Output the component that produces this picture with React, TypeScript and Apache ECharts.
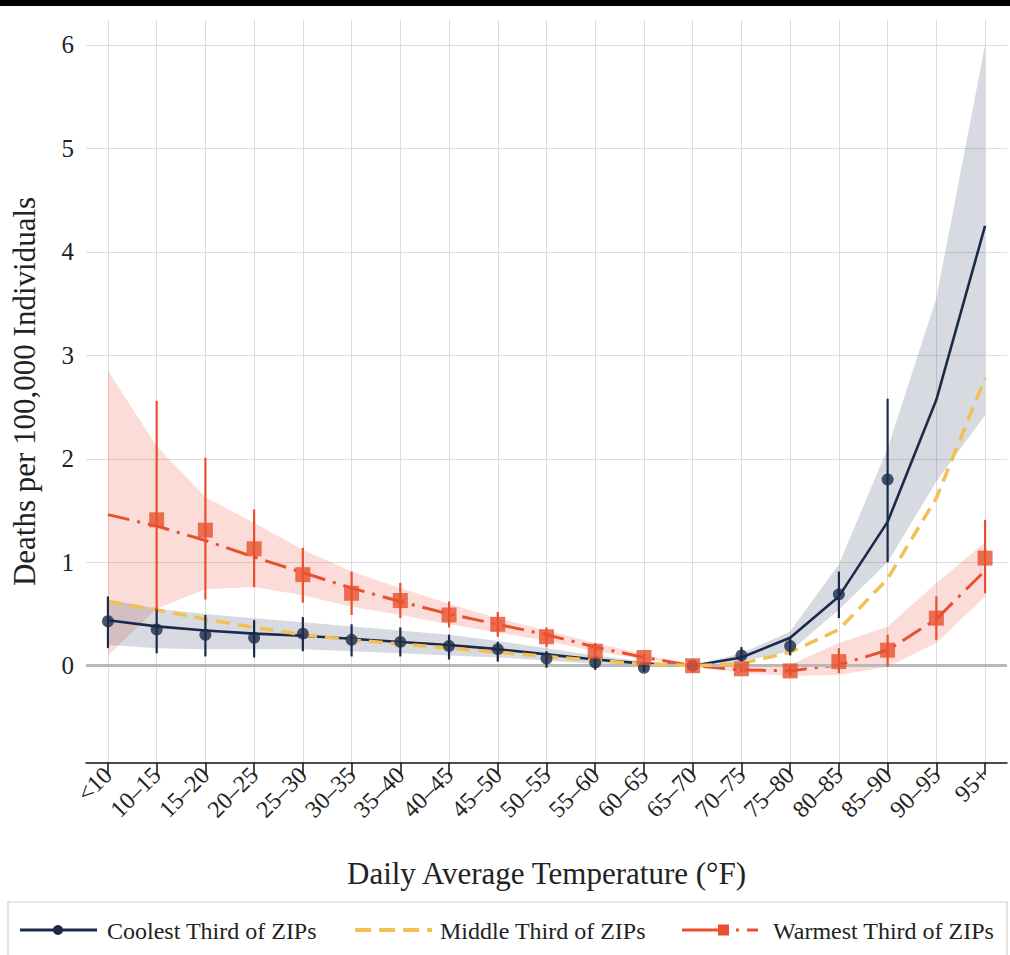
import React, { useEffect, useRef } from "react";
import * as echarts from "echarts";

const categories = ["<10", "10–15", "15–20", "20–25", "25–30", "30–35", "35–40", "40–45", "45–50", "50–55", "55–60", "60–65", "65–70", "70–75", "75–80", "80–85", "85–90", "90–95", "95+"];
const yTicks = [0, 1, 2, 3, 4, 5, 6];

// Coolest third
const coolestFit = [0.44, 0.38, 0.34, 0.31, 0.29, 0.26, 0.23, 0.2, 0.16, 0.11, 0.06, 0.02, 0, 0.08, 0.27, 0.67, 1.39, 2.57, 4.25];
const coolestBandHi = [0.64, 0.55, 0.5, 0.46, 0.42, 0.38, 0.34, 0.3, 0.24, 0.17, 0.1, 0.04, 0, 0.12, 0.33, 0.98, 2.1, 3.55, 6.0];
const coolestBandLo = [0.2, 0.17, 0.16, 0.16, 0.16, 0.14, 0.12, 0.1, 0.08, 0.05, 0.02, 0.0, 0, 0.04, 0.14, 0.54, 1.0, 1.78, 2.42];
const coolestPt = [0.43, 0.35, 0.3, 0.27, 0.31, 0.25, 0.23, 0.19, 0.16, 0.07, 0.03, -0.02, 0, 0.1, 0.19, 0.69, 1.8, null, null];
const coolestHi = [0.67, 0.56, 0.49, 0.44, 0.47, 0.4, 0.37, 0.3, 0.23, 0.14, 0.09, 0.02, null, 0.18, 0.27, 0.91, 2.58, null, null];
const coolestLo = [0.17, 0.12, 0.09, 0.08, 0.14, 0.09, 0.09, 0.06, 0.04, -0.02, -0.04, -0.06, null, 0.04, 0.1, 0.46, 1.0, null, null];

// Middle third
const middleFit = [0.62, 0.54, 0.45, 0.37, 0.3, 0.25, 0.21, 0.17, 0.13, 0.09, 0.05, 0.02, 0, 0.02, 0.13, 0.35, 0.84, 1.62, 2.78];

// Warmest third
const warmestFit = [1.46, 1.35, 1.21, 1.05, 0.9, 0.75, 0.62, 0.5, 0.4, 0.3, 0.18, 0.08, 0, -0.04, -0.05, 0.01, 0.15, 0.45, 0.92];
const warmestBandHi = [2.85, 2.12, 1.63, 1.38, 1.12, 0.91, 0.75, 0.6, 0.46, 0.34, 0.22, 0.11, 0, 0.0, 0.01, 0.22, 0.38, 0.8, 1.19];
const warmestBandLo = [0.1, 0.55, 0.74, 0.76, 0.68, 0.57, 0.49, 0.4, 0.32, 0.24, 0.14, 0.06, 0, -0.07, -0.1, -0.09, -0.01, 0.22, 0.67];
const warmestPt = [null, 1.41, 1.31, 1.13, 0.88, 0.7, 0.63, 0.49, 0.4, 0.28, 0.14, 0.08, 0, -0.03, -0.05, 0.04, 0.15, 0.46, 1.04];
const warmestHi = [null, 2.56, 2.01, 1.51, 1.14, 0.91, 0.8, 0.62, 0.52, 0.37, 0.22, 0.12, null, 0.0, 0.0, 0.17, 0.3, 0.67, 1.41];
const warmestLo = [null, 0.54, 0.64, 0.76, 0.61, 0.49, 0.46, 0.37, 0.28, 0.18, 0.07, 0.04, null, -0.06, -0.1, -0.07, -0.01, 0.25, 0.7];

const NAVY = "#1c2a4a";
const YELLOW = "#f3bf57";
const RED = "#e8502e";
const FONT = "Liberation Serif";

const pairs = (arr: (number | null)[]) => arr.map((v, i) => [i, v]);
const bars = (lo: (number | null)[], hi: (number | null)[]) =>
  lo.map((v, i) => [i, v, hi[i]]).filter((d) => d[1] != null && d[2] != null);

const bandSeries = (name: string, lo: number[], hi: number[], color: string, z: number, extra: any = {}) => ({
  type: "custom",
  name,
  z,
  silent: true,
  data: lo.map((v, i) => [i, v, hi[i]]),
  encode: { x: 0, y: [1, 2] },
  renderItem: (params: any, api: any) => {
    if (params.dataIndex !== 0) return null;
    const top = hi.map((v, i) => api.coord([i, v]));
    const bottom = lo.map((v, i) => api.coord([i, v])).reverse();
    return {
      type: "polygon",
      shape: { points: top.concat(bottom) },
      style: { fill: color },
    };
  },
  ...extra,
});

const errorBarSeries = (name: string, data: any[], color: string, z: number) => ({
  type: "custom",
  name,
  z,
  silent: true,
  data,
  encode: { x: 0, y: [1, 2] },
  renderItem: (params: any, api: any) => {
    const x = api.value(0);
    const p1 = api.coord([x, api.value(1)]);
    const p2 = api.coord([x, api.value(2)]);
    return {
      type: "line",
      shape: { x1: p1[0], y1: p1[1], x2: p2[0], y2: p2[1] },
      style: { stroke: color, lineWidth: 2.2 },
    };
  },
});

export default function App() {
  const ref = useRef<HTMLDivElement>(null);
  useEffect(() => {
    if (!ref.current) return;
    const chart = echarts.init(ref.current, null, { renderer: "svg" });
    const option: any = {
      animation: false,
      backgroundColor: "#ffffff",
      grid: { left: 86, right: 3, top: 20, bottom: 192, containLabel: false },
      xAxis: {
        type: "value",
        min: -0.45,
        max: 18.45,
        axisLine: { show: true, onZero: false, lineStyle: { color: "#111", width: 1.5 } },
        axisTick: { show: true, customValues: categories.map((_, i) => i), length: 12, lineStyle: { color: "#111", width: 1.5 } },
        axisLabel: {
          customValues: categories.map((_, i) => i),
          formatter: (v: number) => categories[Math.round(v)],
          rotate: 45,
          margin: 8,
          fontFamily: FONT,
          fontSize: 24,
          color: "#222",
        },
        splitLine: { show: true, lineStyle: { color: "#dcdcdc", width: 1 } },
        name: "Daily Average Temperature (°F)",
        nameLocation: "middle",
        nameGap: 95,
        nameTextStyle: { fontFamily: FONT, fontSize: 31, color: "#222" },
      },
      yAxis: {
        type: "value",
        min: -0.94,
        max: 6.24,
        axisLine: { show: false },
        axisTick: { show: false, customValues: yTicks },
        axisLabel: { customValues: yTicks, fontFamily: FONT, fontSize: 25, color: "#222", margin: 12 },
        splitLine: { show: true, lineStyle: { color: "#dcdcdc", width: 1 } },
        name: "Deaths per 100,000 Individuals",
        nameLocation: "middle",
        nameGap: 46,
        nameTextStyle: { fontFamily: FONT, fontSize: 31, color: "#222" },
      },
      series: [
        bandSeries("warmBand", warmestBandLo, warmestBandHi, "rgba(240,110,90,0.24)", 1, {
          markLine: {
            silent: true, symbol: "none", label: { show: false },
            lineStyle: { color: "#b9b9b9", width: 3, type: "solid" },
            data: [{ yAxis: 0 }],
          },
        }),
        bandSeries("coolBand", coolestBandLo, coolestBandHi, "rgba(55,72,105,0.2)", 2),
        {
          type: "line", name: "Coolest Third of ZIPs", data: pairs(coolestFit), symbol: "none", silent: true,
          lineStyle: { color: NAVY, width: 2.6 }, z: 4,
        },
        {
          type: "line", name: "Middle Third of ZIPs", data: pairs(middleFit), symbol: "none", silent: true,
          lineStyle: { color: YELLOW, width: 3.5, type: [14, 8] }, z: 5,
        },
        {
          type: "line", name: "Warmest Third of ZIPs", data: pairs(warmestFit), symbol: "none", silent: true,
          lineStyle: { color: RED, width: 3, type: [22, 8, 3, 8] }, z: 4,
        },
        errorBarSeries("coolErr", bars(coolestLo, coolestHi), NAVY, 6),
        errorBarSeries("warmErr", bars(warmestLo, warmestHi), RED, 6),
        {
          type: "scatter", name: "coolPts", data: pairs(coolestPt).filter((d) => d[1] != null),
          symbol: "circle", symbolSize: 12, itemStyle: { color: NAVY }, silent: true, z: 7,
        },
        {
          type: "scatter", name: "warmPts", data: pairs(warmestPt).filter((d) => d[1] != null),
          symbol: "rect", symbolSize: 15, itemStyle: { color: RED }, silent: true, z: 8,
        },
      ],
      graphic: [
        { type: "rect", left: 0, top: 0, shape: { width: 1010, height: 6 }, style: { fill: "#000" }, z: 100 },
        { type: "rect", shape: { x: 8, y: 902, width: 999, height: 70 }, style: { fill: "none", stroke: "#d0d0d0", lineWidth: 1.2 }, z: 100 },
        { type: "line", shape: { x1: 20, y1: 930, x2: 97, y2: 930 }, style: { stroke: NAVY, lineWidth: 3 }, z: 100 },
        { type: "circle", shape: { cx: 58, cy: 930, r: 5 }, style: { fill: NAVY }, z: 101 },
        { type: "text", x: 107, y: 931, style: { text: "Coolest Third of ZIPs", font: `24px "${FONT}"`, fill: "#222", verticalAlign: "middle" }, z: 100 },
        { type: "line", shape: { x1: 355, y1: 930, x2: 432, y2: 930 }, style: { stroke: YELLOW, lineWidth: 4, lineDash: [16, 8] }, z: 100 },
        { type: "text", x: 440, y: 931, style: { text: "Middle Third of ZIPs", font: `24px "${FONT}"`, fill: "#222", verticalAlign: "middle" }, z: 100 },
        { type: "line", shape: { x1: 682, y1: 930, x2: 722, y2: 930 }, style: { stroke: RED, lineWidth: 3 }, z: 100 },
        { type: "rect", shape: { x: 718, y: 924.5, width: 11, height: 11 }, style: { fill: RED }, z: 101 },
        { type: "line", shape: { x1: 736, y1: 930, x2: 739, y2: 930 }, style: { stroke: RED, lineWidth: 3 }, z: 100 },
        { type: "line", shape: { x1: 747, y1: 930, x2: 758, y2: 930 }, style: { stroke: RED, lineWidth: 3 }, z: 100 },
        { type: "text", x: 773, y: 931, style: { text: "Warmest Third of ZIPs", font: `24px "${FONT}"`, fill: "#222", verticalAlign: "middle" }, z: 100 },
      ],
    };
    chart.setOption(option);
    return () => chart.dispose();
  }, []);
  return <div ref={ref} style={{ position: "fixed", left: 0, top: 0, width: 1010, height: 955 }} />;
}
